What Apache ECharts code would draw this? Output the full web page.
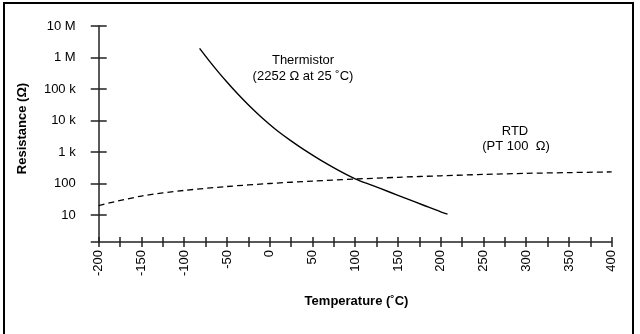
<!DOCTYPE html>
<html>
<head>
<meta charset="utf-8">
<script src="https://cdn.jsdelivr.net/npm/echarts@6/dist/echarts.min.js"></script>
<style>
html,body{margin:0;padding:0;background:#fff;}
#chart{width:640px;height:334px;}
</style>
</head>
<body>
<div id="chart"></div>
<script>
// ---- data ----
const thermTemps = [-82, -70, -60, -50, -40, -30, -20, -10, 0, 10, 25, 40, 60, 80, 100, 120, 140, 160, 180, 200, 208];
const thermOhms  = [1950000, 739000, 344000, 166000, 82800, 43000, 23100, 12900, 7450, 4470, 2252, 1186, 542, 267, 141, 87, 53.7, 33.1, 20.4, 12.6, 10.7];

const rtdTemps = [-200, -150, -100, -50, 0, 50, 100, 150, 200, 250, 300, 350, 400];
const rtdOhms  = [20, 40, 60.3, 80.3, 100, 119.4, 138.5, 157.3, 175.9, 194.1, 210, 222, 233];

const xTickValues  = [-200,-175,-150,-125,-100,-75,-50,-25,0,25,50,75,100,125,150,175,200,225,250,275,300,325,350,375,400];
const xLabelValues = [-200,-150,-100,-50,0,50,100,150,200,250,300,350,400];
const yTickValues  = [10, 100, 1000, 10000, 100000, 1000000, 10000000];
const yTickLabels  = ['10', '100', '1 k', '10 k', '100 k', '1 M', '10 M'];

const yMin = 1.39, yMax = 10000000;
const xMin = -200, xMax = 400;

const FONT = '"Liberation Sans", Arial, Helvetica, sans-serif';
const AXIS_COLOR = '#222';

function yLabel(v) {
  const i = Math.round(Math.log10(v)) - 1;
  return yTickLabels[i] !== undefined ? yTickLabels[i] : '';
}

const chart = echarts.init(document.getElementById('chart'), null, {renderer: 'canvas'});

const option = {
  animation: false,
  backgroundColor: '#fff',
  grid: {left: 98.7, right: 28.3, top: 26, bottom: 92, containLabel: false},
  xAxis: [
    {
      type: 'value', min: xMin, max: xMax, position: 'bottom',
      axisLine: {show: true, onZero: false, lineStyle: {color: AXIS_COLOR, width: 1.5}},
      axisTick: {show: true, inside: false, length: 5, customValues: xTickValues, lineStyle: {color: AXIS_COLOR, width: 1.5}},
      axisLabel: {show: true, customValues: xLabelValues, rotate: 90, margin: 8, fontSize: 13, color: '#000', fontFamily: FONT},
      splitLine: {show: false}
    },
    {
      type: 'value', min: xMin, max: xMax, position: 'bottom',
      axisLine: {show: false, onZero: false},
      axisTick: {show: true, inside: true, length: 5, customValues: xTickValues, lineStyle: {color: AXIS_COLOR, width: 1.5}},
      axisLabel: {show: false},
      splitLine: {show: false}
    }
  ],
  yAxis: [
    {
      type: 'log', min: yMin, max: yMax, position: 'left',
      axisLine: {show: true, onZero: false, lineStyle: {color: AXIS_COLOR, width: 1.5}},
      axisTick: {show: true, inside: false, length: 8, customValues: [yMin].concat(yTickValues), lineStyle: {color: AXIS_COLOR, width: 1.5}},
      axisLabel: {show: true, customValues: yTickValues, formatter: yLabel, margin: 23, fontSize: 13, color: '#000', fontFamily: FONT},
      splitLine: {show: false}
    },
    {
      type: 'log', min: yMin, max: yMax, position: 'left',
      axisLine: {show: false, onZero: false},
      axisTick: {show: true, inside: true, length: 8, customValues: yTickValues, lineStyle: {color: AXIS_COLOR, width: 1.5}},
      axisLabel: {show: false},
      splitLine: {show: false}
    }
  ],
  series: [
    {
      name: 'Thermistor', type: 'line', xAxisIndex: 0, yAxisIndex: 0,
      data: thermTemps.map((t, i) => [t, thermOhms[i]]),
      smooth: 0.3, showSymbol: false, symbol: 'none',
      lineStyle: {color: '#000', width: 1.4}
    },
    {
      name: 'RTD', type: 'line', xAxisIndex: 0, yAxisIndex: 0,
      data: rtdTemps.map((t, i) => [t, rtdOhms[i]]),
      smooth: 0.3, showSymbol: false, symbol: 'none',
      lineStyle: {color: '#000', width: 1.3, type: [6, 4]}
    }
  ],
  graphic: [
    {type: 'rect', shape: {x: 4, y: 3, width: 629, height: 345}, style: {fill: 'none', stroke: '#000', lineWidth: 2}, silent: true, z: 100},
    {type: 'text', x: 22.5, y: 128.5, rotation: Math.PI / 2,
      style: {text: 'Resistance (\u03A9)', font: 'bold 13px ' + FONT, fill: '#000', align: 'center', verticalAlign: 'middle'}},
    {type: 'text', x: 356.5, y: 301,
      style: {text: 'Temperature (\u02DAC)', font: 'bold 13px ' + FONT, fill: '#000', align: 'center', verticalAlign: 'middle'}},
    {type: 'text', x: 303, y: 60,
      style: {text: 'Thermistor', font: '13px ' + FONT, fill: '#000', align: 'center', verticalAlign: 'middle'}},
    {type: 'text', x: 303, y: 76,
      style: {text: '(2252 \u03A9 at 25 \u02DAC)', font: '13px ' + FONT, fill: '#000', align: 'center', verticalAlign: 'middle'}},
    {type: 'text', x: 515, y: 131,
      style: {text: 'RTD', font: '13px ' + FONT, fill: '#000', align: 'center', verticalAlign: 'middle'}},
    {type: 'text', x: 516, y: 146,
      style: {text: '(PT 100  \u03A9)', font: '13px ' + FONT, fill: '#000', align: 'center', verticalAlign: 'middle'}}
  ]
};

chart.setOption(option);
</script>
</body>
</html>
